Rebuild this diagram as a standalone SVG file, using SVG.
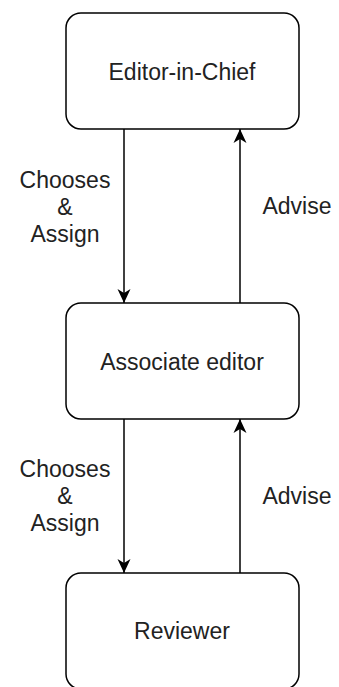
<svg xmlns="http://www.w3.org/2000/svg" width="339" height="687" viewBox="0 0 339 687">
<style>
.box{fill:#fff;stroke:#000;stroke-width:1.5}
.t{font-family:"Liberation Sans",Arial,sans-serif;font-size:23px;fill:#222;text-anchor:middle}
.c{stroke:#000;stroke-width:1.5;fill:none;marker-end:url(#arr)}
</style>
<defs>
<marker id="arr" markerUnits="userSpaceOnUse" markerWidth="16" markerHeight="16" viewBox="-15 -8 16 16" refX="0" refY="0" orient="auto">
<path d="M0,0 L-14,-6.5 L-10,0 L-14,6.5 Z" fill="#000"/>
</marker>
</defs>
<rect width="339" height="687" fill="#fff"/>
<g id="connectors">
<line class="c" x1="124" y1="129" x2="124" y2="303"/>
<line class="c" x1="240" y1="303" x2="240" y2="129"/>
<line class="c" x1="124" y1="419" x2="124" y2="573"/>
<line class="c" x1="240" y1="573" x2="240" y2="419"/>
<text class="t" x="65" y="188">Chooses</text>
<text class="t" x="65" y="215">&amp;</text>
<text class="t" x="65" y="242">Assign</text>
<text class="t" x="297" y="214">Advise</text>
<text class="t" x="65" y="477">Chooses</text>
<text class="t" x="65" y="504">&amp;</text>
<text class="t" x="65" y="531">Assign</text>
<text class="t" x="297" y="504">Advise</text>
</g>
<g id="editor-in-chief">
<rect class="box" x="66" y="13" width="233" height="116" rx="15"/>
<text class="t" x="182" y="80">Editor-in-Chief</text>
</g>
<g id="associate-editor">
<rect class="box" x="66" y="303" width="233" height="116" rx="15"/>
<text class="t" x="182" y="370">Associate editor</text>
</g>
<g id="reviewer">
<rect class="box" x="66" y="573" width="233" height="116" rx="15"/>
<text class="t" x="182" y="639">Reviewer</text>
</g>
</svg>
